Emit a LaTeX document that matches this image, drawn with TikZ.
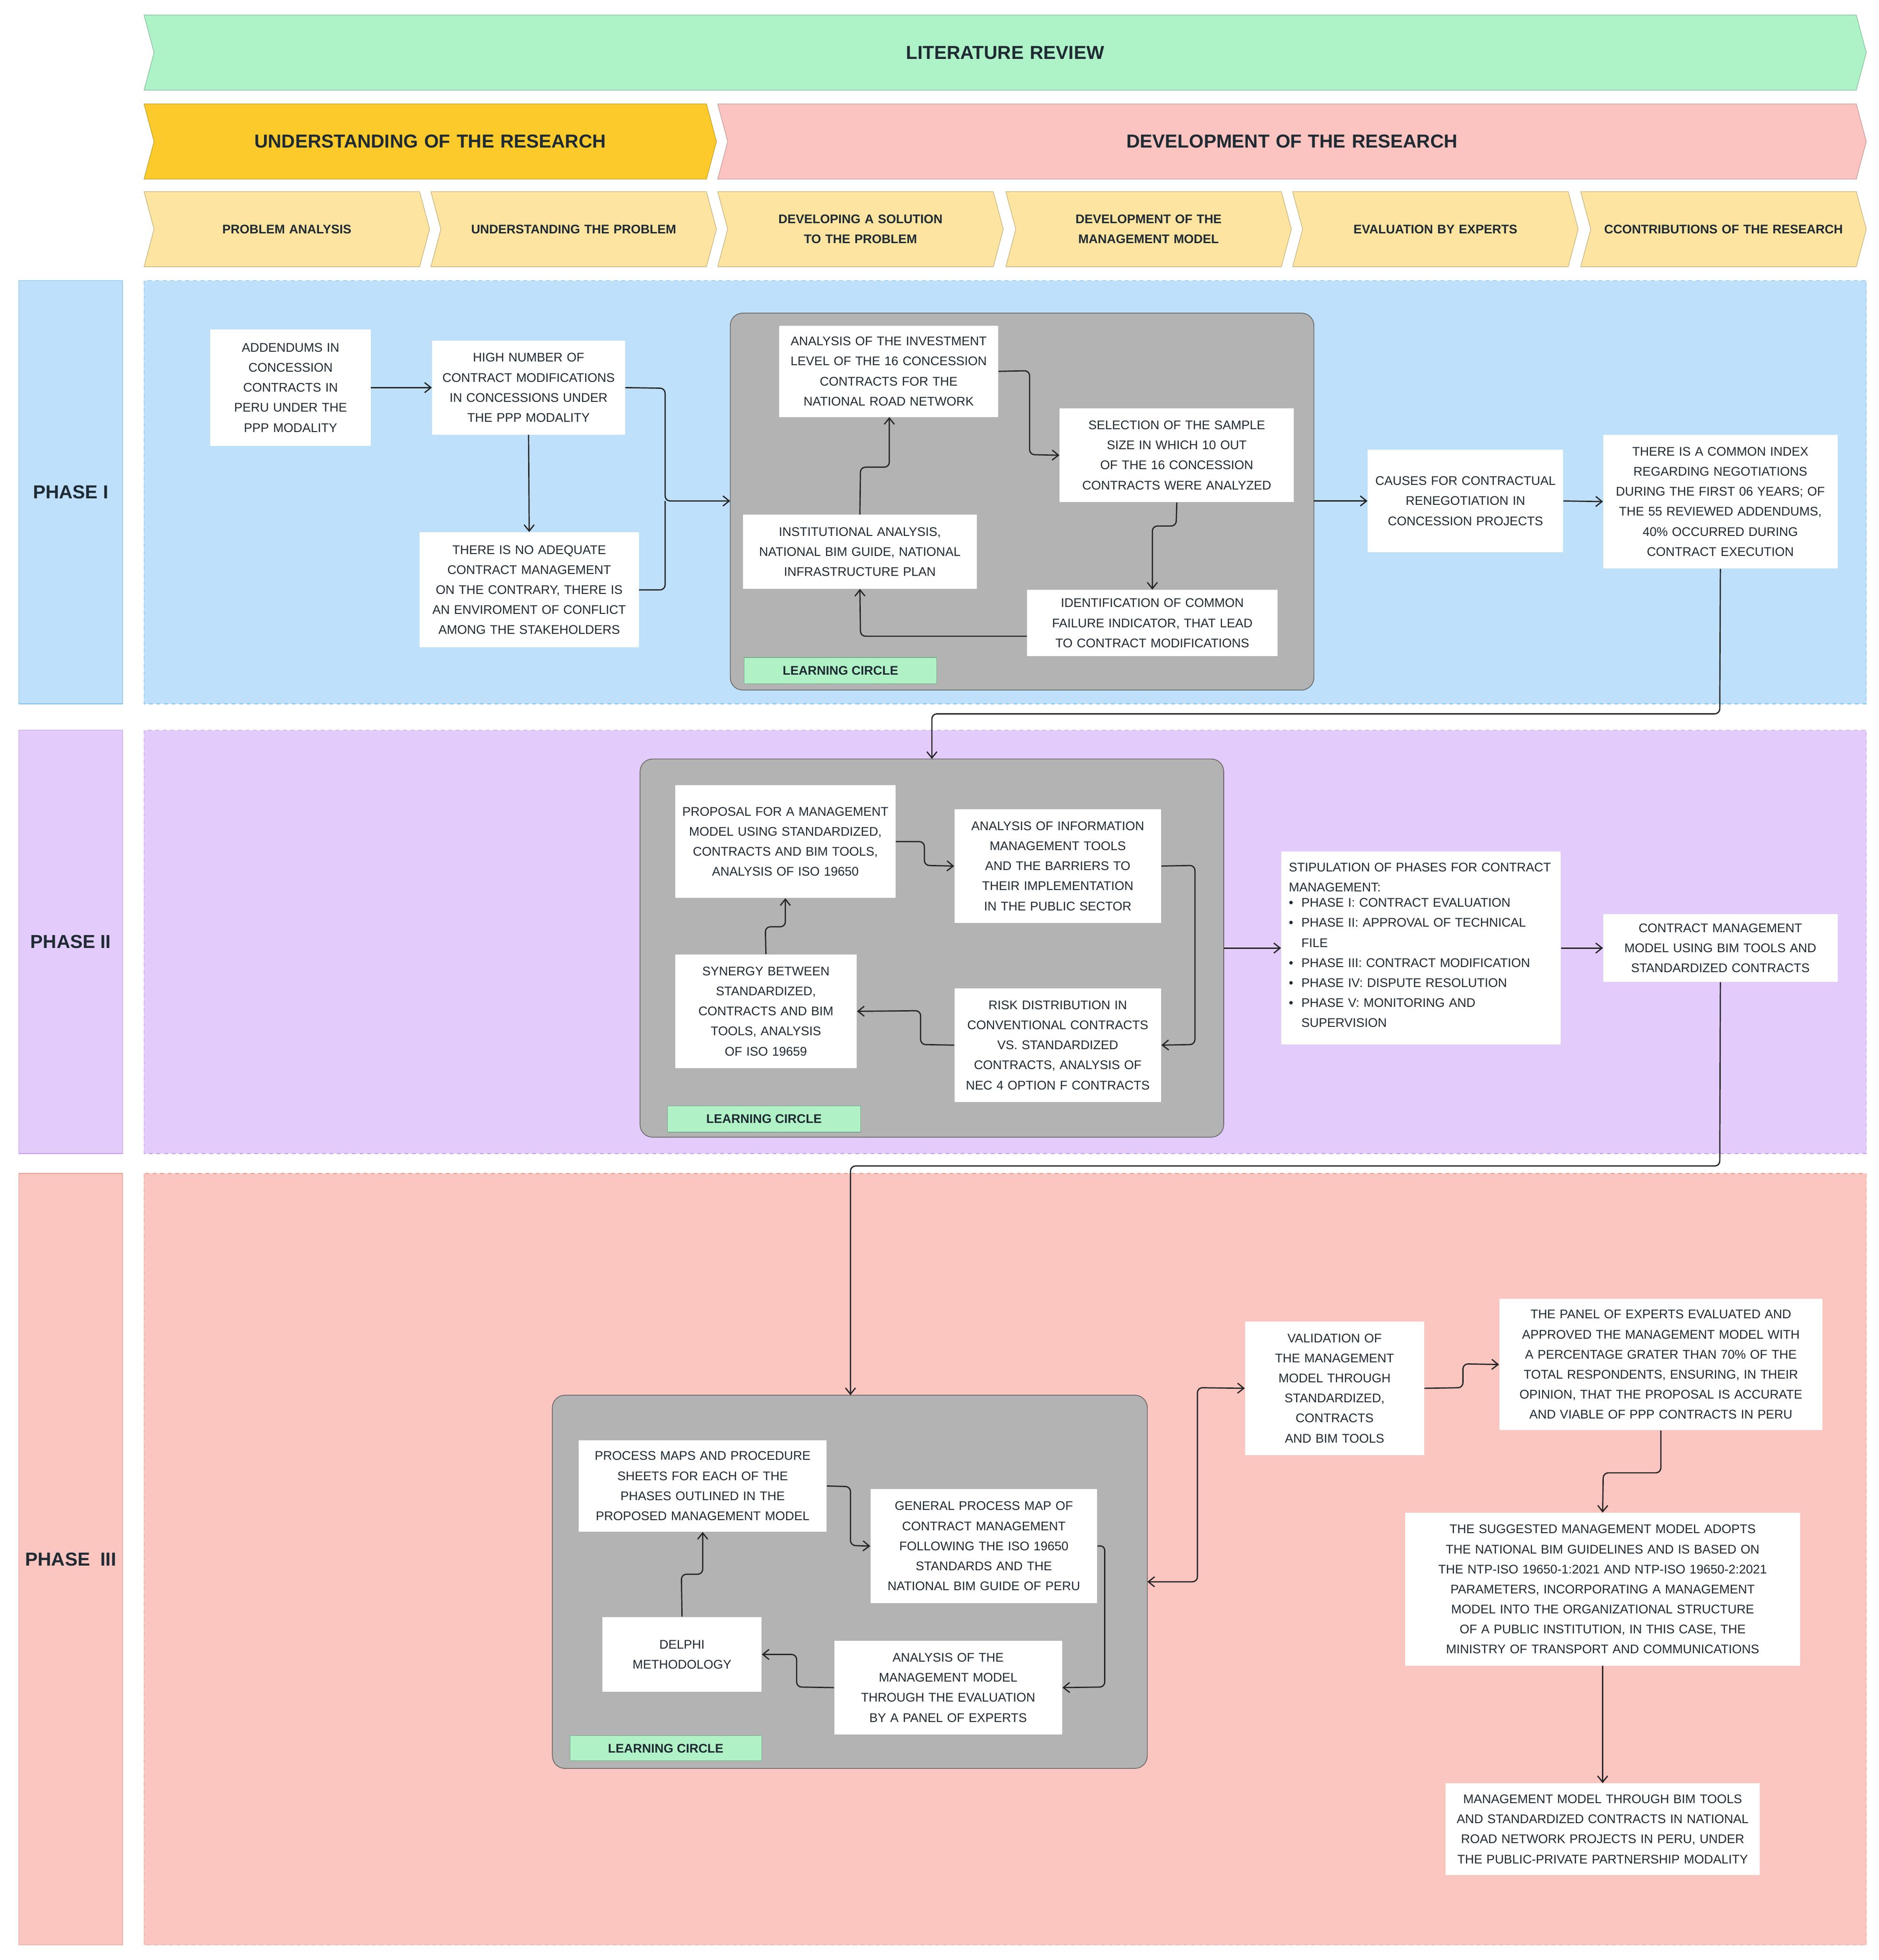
\documentclass[tikz,border=0pt]{standalone}
\usepackage{fontspec}
\setmainfont{Liberation Sans}
\usetikzlibrary{arrows.meta,positioning}
\definecolor{litg}{HTML}{AEF2C8}
\definecolor{undy}{HTML}{FCCB2B}
\definecolor{devp}{HTML}{FBC4C0}
\definecolor{suby}{HTML}{FDE4A0}
\definecolor{ph1}{HTML}{BEE0FA}
\definecolor{ph1b}{HTML}{7EC0F0}
\definecolor{ph2}{HTML}{E3CCFB}
\definecolor{ph2b}{HTML}{C39BF0}
\definecolor{ph3}{HTML}{FBC5C0}
\definecolor{ph3b}{HTML}{F09A90}
\definecolor{gbox}{HTML}{B3B3B3}
\definecolor{lcg}{HTML}{B0F2C6}
\definecolor{txt}{HTML}{1F2A33}
\newcommand{\nohy}{\hyphenpenalty=10000\exhyphenpenalty=10000\relax}
\newcommand{\mychev}[8]{%
  \fill[#5,draw=#5!80!black,line width=0.5pt] (#1,#3) -- (#2-8,#3) -- (#2,{(#3+#4)/2}) -- (#2-8,#4) -- (#1,#4) -- (#1+8,{(#3+#4)/2}) -- cycle;
  \node[font=#7\nohy,text=txt,align=center,text width={(#2-#1-36)*1pt}] (#8) at ({(#1+#2)/2},{(#3+#4)/2}) {#6};}
\newcommand{\myregion}[6]{%
  \fill[#5,draw=#6,line width=0.6pt] (15,#1) rectangle (98,#2);
  \node[font=\fontsize{15}{18}\selectfont\bfseries,text=txt] (#3) at (56.5,{(#1+#2)/2}) {#4};
  \fill[#5,draw=#6,dashed,line width=0.6pt] (115,#1) rectangle (1490,#2);}
\tikzset{
  x=1pt,y=-1pt,
  bx/.style={fill=white,draw=none,font=\fontsize{10}{16}\selectfont\nohy,text=txt,align=center,inner sep=2pt},
  gb/.style={fill=gbox,draw=gray!80!black,rounded corners=10pt,line width=0.6pt},
  lc/.style={fill=lcg,draw=lcg!70!black,line width=0.4pt,font=\fontsize{10}{12}\selectfont\bfseries,text=txt,inner sep=0pt},
  ar/.style={draw=black!85,line width=1pt,-{Straight Barb[length=5pt,width=8pt]},rounded corners=4pt},
}
\newcommand{\bnode}[7]{% name, x0,y0,x1,y1, text
  \node[bx,minimum width={(#4-#2)*1pt},minimum height={(#5-#3)*1pt},text width={(#4-#2-10)*1pt}] (#1) at ({(#2+#4)/2},{(#3+#5)/2}) {#6};}
\newcommand{\lcnode}[5]{\node[lc,minimum width={(#4-#2)*1pt},minimum height={(#5-#3)*1pt}] (#1) at ({(#2+#4)/2},{(#3+#5)/2}) {LEARNING CIRCLE};}
\begin{document}
\begin{tikzpicture}
\useasboundingbox (0,0) rectangle (1500,1565);
\fill[white] (0,0) rectangle (1500,1565);
% headers
\mychev{115}{1490}{12}{72}{litg}{LITERATURE REVIEW}{\fontsize{15}{18}\selectfont\bfseries}{lit}
\mychev{115}{572}{83}{143}{undy}{UNDERSTANDING OF THE RESEARCH}{\fontsize{15}{18}\selectfont\bfseries}{und}
\mychev{573}{1490}{83}{143}{devp}{DEVELOPMENT OF THE RESEARCH}{\fontsize{15}{18}\selectfont\bfseries}{dev}
\mychev{115}{343}{153}{213}{suby}{PROBLEM ANALYSIS}{\fontsize{10}{16}\selectfont\bfseries}{s1}
\mychev{344}{572}{153}{213}{suby}{UNDERSTANDING THE PROBLEM}{\fontsize{10}{16}\selectfont\bfseries}{s2}
\mychev{573}{801}{153}{213}{suby}{DEVELOPING A SOLUTION TO THE PROBLEM}{\fontsize{10}{16}\selectfont\bfseries}{s3}
\mychev{803}{1031}{153}{213}{suby}{DEVELOPMENT OF THE MANAGEMENT MODEL}{\fontsize{10}{16}\selectfont\bfseries}{s4}
\mychev{1032}{1260}{153}{213}{suby}{EVALUATION BY EXPERTS}{\fontsize{10}{16}\selectfont\bfseries}{s5}
\mychev{1262}{1490}{153}{213}{suby}{CCONTRIBUTIONS OF THE RESEARCH}{\fontsize{10}{16}\selectfont\bfseries}{s6}
% regions
\myregion{224}{562}{p1}{PHASE I}{ph1}{ph1b}
\myregion{583}{921}{p2}{PHASE II}{ph2}{ph2b}
\myregion{937}{1553}{p3}{PHASE\ \ III}{ph3}{ph3b}
% ---------- Phase I
\draw[gb] (583,250) rectangle (1049,551);
\coordinate (g1w) at (583,400); \coordinate (g1e) at (1049,400);
\bnode{A}{168}{263}{296}{356}{ADDENDUMS IN CONCESSION CONTRACTS IN PERU UNDER THE PPP MODALITY}{}
\bnode{B}{345}{272}{499}{347}{HIGH NUMBER OF CONTRACT MODIFICATIONS IN CONCESSIONS UNDER THE PPP MODALITY}{}
\bnode{C}{335}{425}{510}{517}{THERE IS NO ADEQUATE CONTRACT MANAGEMENT ON THE CONTRARY, THERE IS AN ENVIROMENT OF CONFLICT AMONG THE STAKEHOLDERS}{}
\bnode{D}{622}{260}{797}{333}{ANALYSIS OF THE INVESTMENT LEVEL OF THE 16 CONCESSION CONTRACTS FOR THE NATIONAL ROAD NETWORK}{}
\bnode{E}{846}{326}{1033}{401}{SELECTION OF THE SAMPLE SIZE IN WHICH 10 OUT OF THE 16 CONCESSION CONTRACTS WERE ANALYZED}{}
\bnode{F}{820}{471}{1020}{524}{IDENTIFICATION OF COMMON FAILURE INDICATOR, THAT LEAD TO CONTRACT MODIFICATIONS}{}
\bnode{H}{593}{411}{780}{470}{INSTITUTIONAL ANALYSIS, NATIONAL BIM GUIDE, NATIONAL INFRASTRUCTURE PLAN}{}
\lcnode{LC1}{594}{525}{748}{546}
\bnode{I}{1092}{359}{1248}{441}{CAUSES FOR CONTRACTUAL RENEGOTIATION IN CONCESSION PROJECTS}{}
\bnode{J}{1280}{347}{1467}{454}{THERE IS A COMMON INDEX REGARDING NEGOTIATIONS DURING THE FIRST 06 YEARS; OF THE 55 REVIEWED ADDENDUMS, 40\% OCCURRED DURING CONTRACT EXECUTION}{}
\draw[ar] (A.east) -- (B.west);
\draw[ar] (B.south) -- (C.north);
\draw[ar] (B.east) -- (531,310) -- (531,400) -- (g1w);
\draw[ar,-] (C.east) -- (531,471) -- (531,400);
\draw[ar] (D.east) -- (822,296) -- (822,363) -- (E.west);
\draw[ar] (E.south) -- (939,420) -- (920,420) -- (F.north);
\draw[ar] (F.west |- 0,508) -- (687,508) -- (H.south);
\draw[ar] (H.north) -- (687,373) -- (710,373) -- (710,333);
\draw[ar] (g1e) -- (I.west);
\draw[ar] (I.east) -- (J.west);
% ---------- Phase II
\draw[gb] (511,606) rectangle (977,908);
\coordinate (g2n) at (744,606); \coordinate (g2e) at (977,757);
\draw[ar] (J.south) -- (1373,570) -- (744,570) -- (g2n);
\bnode{K}{539}{627}{715}{717}{PROPOSAL FOR A MANAGEMENT MODEL USING STANDARDIZED, CONTRACTS AND BIM TOOLS, ANALYSIS OF ISO 19650}{}
\bnode{L}{762}{646}{927}{737}{ANALYSIS OF INFORMATION MANAGEMENT TOOLS AND THE BARRIERS TO THEIR IMPLEMENTATION IN THE PUBLIC SECTOR}{}
\bnode{M}{762}{789}{927}{880}{RISK DISTRIBUTION IN CONVENTIONAL CONTRACTS VS. STANDARDIZED CONTRACTS, ANALYSIS OF NEC 4 OPTION F CONTRACTS}{}
\bnode{N}{539}{762}{684}{853}{SYNERGY BETWEEN STANDARDIZED, CONTRACTS AND BIM TOOLS, ANALYSIS OF ISO 19659}{}
\lcnode{LC2}{533}{883}{687}{904}
\node[bx,align=left,minimum width=223pt,minimum height=154pt,text width=211pt] (O) at (1134.5,757) {STIPULATION OF PHASES FOR CONTRACT MANAGEMENT:\\
\begin{tabular}{@{}p{10pt}@{}p{185pt}@{}}
\textbullet & PHASE I: CONTRACT EVALUATION\\
\textbullet & PHASE II: APPROVAL OF TECHNICAL FILE\\
\textbullet & PHASE III: CONTRACT MODIFICATION\\
\textbullet & PHASE IV: DISPUTE RESOLUTION\\
\textbullet & PHASE V: MONITORING AND SUPERVISION
\end{tabular}};
\bnode{P}{1280}{730}{1467}{784}{CONTRACT MANAGEMENT MODEL USING BIM TOOLS AND STANDARDIZED CONTRACTS}{}
\draw[ar] (K.east) -- (738,672) -- (738,691) -- (L.west);
\draw[ar] (L.east) -- (954,691) -- (954,834) -- (M.east);
\draw[ar] (M.west) -- (735,834) -- (735,807) -- (N.east);
\draw[ar] (N.north) -- (611,740) -- (627,740) -- (K.south);
\draw[ar] (g2e) -- (O.west);
\draw[ar] (O.east |- P.west) -- (P.west);
% ---------- Phase III
\draw[gb] (441,1114) rectangle (916,1412);
\coordinate (g3n) at (679,1114); \coordinate (g3e) at (916,1263);
\draw[ar] (P.south) -- (1373,931) -- (679,931) -- (g3n);
\bnode{Q}{462}{1150}{660}{1223}{PROCESS MAPS AND PROCEDURE SHEETS FOR EACH OF THE PHASES OUTLINED IN THE PROPOSED MANAGEMENT MODEL}{}
\bnode{R}{695}{1189}{876}{1280}{GENERAL PROCESS MAP OF CONTRACT MANAGEMENT FOLLOWING THE ISO 19650 STANDARDS AND THE NATIONAL BIM GUIDE OF PERU}{}
\bnode{S}{666}{1310}{848}{1385}{ANALYSIS OF THE MANAGEMENT MODEL THROUGH THE EVALUATION BY A PANEL OF EXPERTS}{}
\bnode{T}{481}{1291}{608}{1351}{DELPHI\\METHODOLOGY}{}
\lcnode{LC3}{455}{1386}{608}{1406}
\bnode{U}{994}{1055}{1137}{1162}{VALIDATION OF THE MANAGEMENT MODEL THROUGH STANDARDIZED, CONTRACTS AND BIM TOOLS}{}
\bnode{V}{1197}{1037}{1455}{1142}{THE PANEL OF EXPERTS EVALUATED AND APPROVED THE MANAGEMENT MODEL WITH A PERCENTAGE GRATER THAN 70\% OF THE TOTAL RESPONDENTS, ENSURING, IN THEIR OPINION, THAT THE PROPOSAL IS ACCURATE AND VIABLE OF PPP CONTRACTS IN PERU}{}
\bnode{W}{1122}{1208}{1437}{1330}{THE SUGGESTED MANAGEMENT MODEL ADOPTS THE NATIONAL BIM GUIDELINES AND IS BASED ON THE NTP-ISO 19650-1:2021 AND NTP-ISO 19650-2:2021 PARAMETERS, INCORPORATING A MANAGEMENT MODEL INTO THE ORGANIZATIONAL STRUCTURE OF A PUBLIC INSTITUTION, IN THIS CASE, THE MINISTRY OF TRANSPORT AND COMMUNICATIONS}{}
\bnode{X}{1154}{1424}{1405}{1497}{MANAGEMENT MODEL THROUGH BIM TOOLS AND STANDARDIZED CONTRACTS IN NATIONAL ROAD NETWORK PROJECTS IN PERU, UNDER THE PUBLIC-PRIVATE PARTNERSHIP MODALITY}{}
\draw[ar] (Q.east) -- (679,1187) -- (679,1234) -- (R.west);
\draw[ar] (R.east) -- (882,1234) -- (882,1347) -- (S.east);
\draw[ar] (S.west) -- (636,1347) -- (636,1321) -- (T.east);
\draw[ar] (T.north) -- (544,1257) -- (561,1257) -- (Q.south);
\draw[ar,{Straight Barb[length=5pt,width=8pt]}-{Straight Barb[length=5pt,width=8pt]}] (g3e) -- (956,1263) -- (956,1108) -- (U.west);
\draw[ar] (U.east) -- (1168,1108) -- (1168,1089) -- (V.west);
\draw[ar] (V.south) -- (1326,1176) -- (1280,1176) -- (W.north);
\draw[ar] (W.south) -- (X.north);
\end{tikzpicture}
\end{document}
